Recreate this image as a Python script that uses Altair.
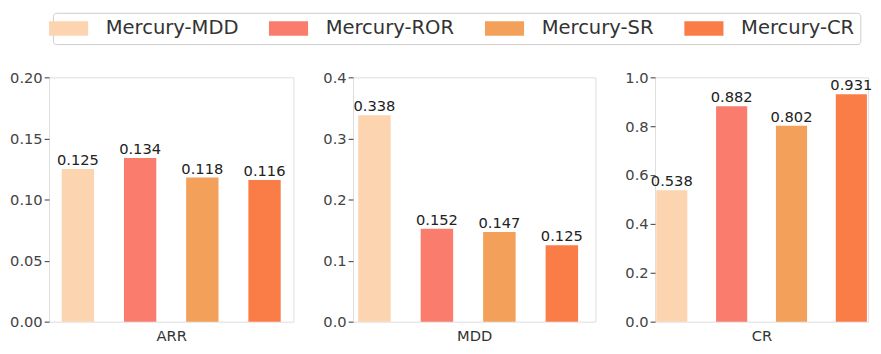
import altair as alt
import pandas as pd

methods = ["Mercury-MDD", "Mercury-ROR", "Mercury-SR", "Mercury-CR"]
colors = ["#FDD4B0", "#F97C6C", "#F3A05A", "#FA7D48"]

arr_values = [0.125, 0.134, 0.118, 0.116]
mdd_values = [0.338, 0.152, 0.147, 0.125]
cr_values = [0.538, 0.882, 0.802, 0.931]

panels = [
    ("ARR", arr_values, 0.2, [0.0, 0.05, 0.10, 0.15, 0.20], ".2f", 250, 0.204, 0.5),
    ("MDD", mdd_values, 0.4, [0.0, 0.1, 0.2, 0.3, 0.4], ".1f", 248, 0.18, 0.23),
    ("CR", cr_values, 1.0, [0.0, 0.2, 0.4, 0.6, 0.8, 1.0], ".1f", 218, 0.02, 0.5),
]

FONT = "DejaVu Sans"

charts = []
for i, (name, vals, ymax, ticks, fmt, w, po, al) in enumerate(panels):
    df = pd.DataFrame({"method": methods, "value": vals})
    x = alt.X(
        "method:N",
        sort=methods,
        scale=alt.Scale(paddingInner=0.48, paddingOuter=po, align=al),
        axis=alt.Axis(title=name, labels=False, ticks=False, domain=False,
                      titleFontSize=15, titleFont=FONT, titleFontWeight="normal",
                      titleColor="#333", titlePadding=7),
    )
    y = alt.Y(
        "value:Q",
        scale=alt.Scale(domain=[0, ymax], nice=False, zero=True),
        axis=alt.Axis(title=None, values=ticks, format=fmt, grid=False, domain=False,
                      tickSize=5, tickColor="#555", tickWidth=1.2, labelFontSize=15,
                      labelFont=FONT, labelColor="#444", labelPadding=2),
    )
    color_kwargs = dict(
        scale=alt.Scale(domain=methods, range=colors),
        legend=None,
    )
    if i == 0:
        color_kwargs["legend"] = alt.Legend(
            orient="none", legendX=4, legendY=-66, direction="horizontal",
            columns=4, title=None,
            symbolType="M-2,-0.75L2,-0.75L2,0.75L-2,0.75Z", symbolSize=400,
            symbolStrokeWidth=0, symbolOpacity=1,
            labelFontSize=20, labelFont=FONT, labelColor="#333",
            fillColor="white", strokeColor="#cccccc", padding=6, cornerRadius=3,
            columnPadding=31, labelOffset=28,
        )
    base = alt.Chart(df)
    bars = base.mark_bar().encode(
        x=x, y=y, color=alt.Color("method:N", **color_kwargs)
    )
    labels = base.mark_text(baseline="bottom", dy=-1, fontSize=15, font=FONT,
                            color="#222").encode(
        x=alt.X("method:N", sort=methods),
        y="value:Q",
        text=alt.Text("value:Q", format=".3f"),
    )
    charts.append((bars + labels).properties(width=w, height=250))

chart = alt.hconcat(*charts, spacing=28).properties(
    padding={"left": 1, "top": 0, "right": 0, "bottom": 0}
).configure_view(fill="#F2F2F2", stroke="transparent", strokeWidth=0).configure(background="white")

chart.save("out.html", embed_options={"renderer": "svg", "actions": False})
